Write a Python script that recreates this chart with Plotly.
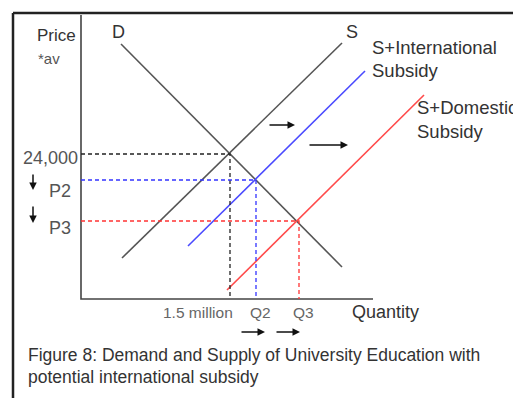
import plotly.graph_objects as go

# ---- data (schematic units: quantity to the right, price upward) ----
demand_q = [40, 261]
demand_p = [255, 32]
supply_q = [41, 261]
supply_p = [41, 256]
supply_intl_q = [107, 284]
supply_intl_p = [53, 228]
supply_dom_q = [146, 343]
supply_dom_p = [9, 204]
eq_q = [149, 175, 218]
eq_p = [145, 119, 78]
price_labels = ["24,000", "P2", "P3"]
qty_labels = ["1.5 million", "Q2", "Q3"]
eq_colors = ["#222222", "#3333ff", "#ff3333"]

W, H = 513, 398
X0, Y0 = 81, 299  # figure pixel position of axis origin

fig = go.Figure()

GRAY = "#555555"
fig.add_trace(go.Scatter(x=[0, 0, 292], y=[284, 0, 0], mode="lines",
                         line=dict(color="#444444", width=1.6), hoverinfo="skip"))
fig.add_trace(go.Scatter(x=demand_q, y=demand_p, mode="lines",
                         line=dict(color=GRAY, width=1.6), hoverinfo="skip"))
fig.add_trace(go.Scatter(x=supply_q, y=supply_p, mode="lines",
                         line=dict(color=GRAY, width=1.6), hoverinfo="skip"))
fig.add_trace(go.Scatter(x=supply_intl_q, y=supply_intl_p, mode="lines",
                         line=dict(color="#4a4aff", width=1.6), hoverinfo="skip"))
fig.add_trace(go.Scatter(x=supply_dom_q, y=supply_dom_p, mode="lines",
                         line=dict(color="#ff4a4a", width=1.6), hoverinfo="skip"))
for q, p, c in zip(eq_q, eq_p, eq_colors):
    fig.add_trace(go.Scatter(x=[0, q, q], y=[p, p, 0], mode="lines",
                             line=dict(color=c, width=1.3, dash="4px,3px"),
                             hoverinfo="skip"))

ann = []
TXT = "#333333"
FONT = "Liberation Sans, Arial, sans-serif"

def text(x, y, s, xanchor="left", size=18, color=TXT, family=FONT):
    ann.append(dict(x=x, y=y, xref="x", yref="y", text=s, showarrow=False,
                    xanchor=xanchor, yanchor="middle",
                    font=dict(size=size, color=color, family=family)))

def arrow(x0, y0, x1, y1):
    ann.append(dict(x=x1, y=y1, ax=x0, ay=y0, xref="x", yref="y",
                    axref="x", ayref="y", text="", showarrow=True,
                    arrowhead=2, arrowsize=1, arrowwidth=1.5,
                    arrowcolor="#111111"))

text(-1, eq_p[0] - 4, price_labels[0], xanchor="right", color="#555555")
text(-34, eq_p[1] - 11, price_labels[1], color="#555555")
text(-34, eq_p[2] - 7, price_labels[2], color="#555555")
arrow(-48, 126, -48, 109)
arrow(-48, 94, -48, 76)

text(eq_q[0] + 5, -13, qty_labels[0], xanchor="right", size=15.5, color="#666666")
text(eq_q[1] + 4, -13, qty_labels[1], xanchor="center", size=15.5, color="#666666")
text(eq_q[2] + 4, -13, qty_labels[2], xanchor="center", size=15.5, color="#666666")
arrow(159, -33, 184, -33)
arrow(194, -33, 219, -33)

text(-46, 264, "Price", size=17)
text(-45, 241, "*av", size=15, color="#555555")
text(304, -13, "Quantity", xanchor="center")

text(37, 267, "D", xanchor="center")
text(271, 267, "S", xanchor="center")
text(289, 252, "S+International", size=18.5)
text(289, 229, "Subsidy", size=18.5)
text(334, 192, "S+Domestic", size=18.5)
text(334, 168, "Subsidy", size=18.5)

arrow(187, 174, 214, 174)
arrow(227, 154, 267, 154)

text(-55, -56, "Figure 8: Demand and Supply of University Education with", size=17.5)
text(-55, -78, "potential international subsidy", size=17.5)

fig.update_layout(
    width=W, height=H,
    margin=dict(l=0, r=0, t=0, b=0),
    paper_bgcolor="white", plot_bgcolor="white",
    showlegend=False,
    xaxis=dict(range=[-X0, W - X0], visible=False, fixedrange=True),
    yaxis=dict(range=[Y0 - H, Y0], visible=False, fixedrange=True),
    annotations=ann,
    shapes=[
        dict(type="line", xref="paper", yref="paper",
             x0=13 / W, x1=13 / W, y0=0, y1=1 - 13 / H,
             line=dict(color="#222222", width=2.5)),
        dict(type="line", xref="paper", yref="paper",
             x0=13 / W, x1=1, y0=1 - 13 / H, y1=1 - 13 / H,
             line=dict(color="#222222", width=2.5)),
    ],
)

fig.write_html(
    "out.html",
    config={"displayModeBar": False},
    post_script="document.body.style.margin='0';document.body.style.overflow='hidden';",
)
